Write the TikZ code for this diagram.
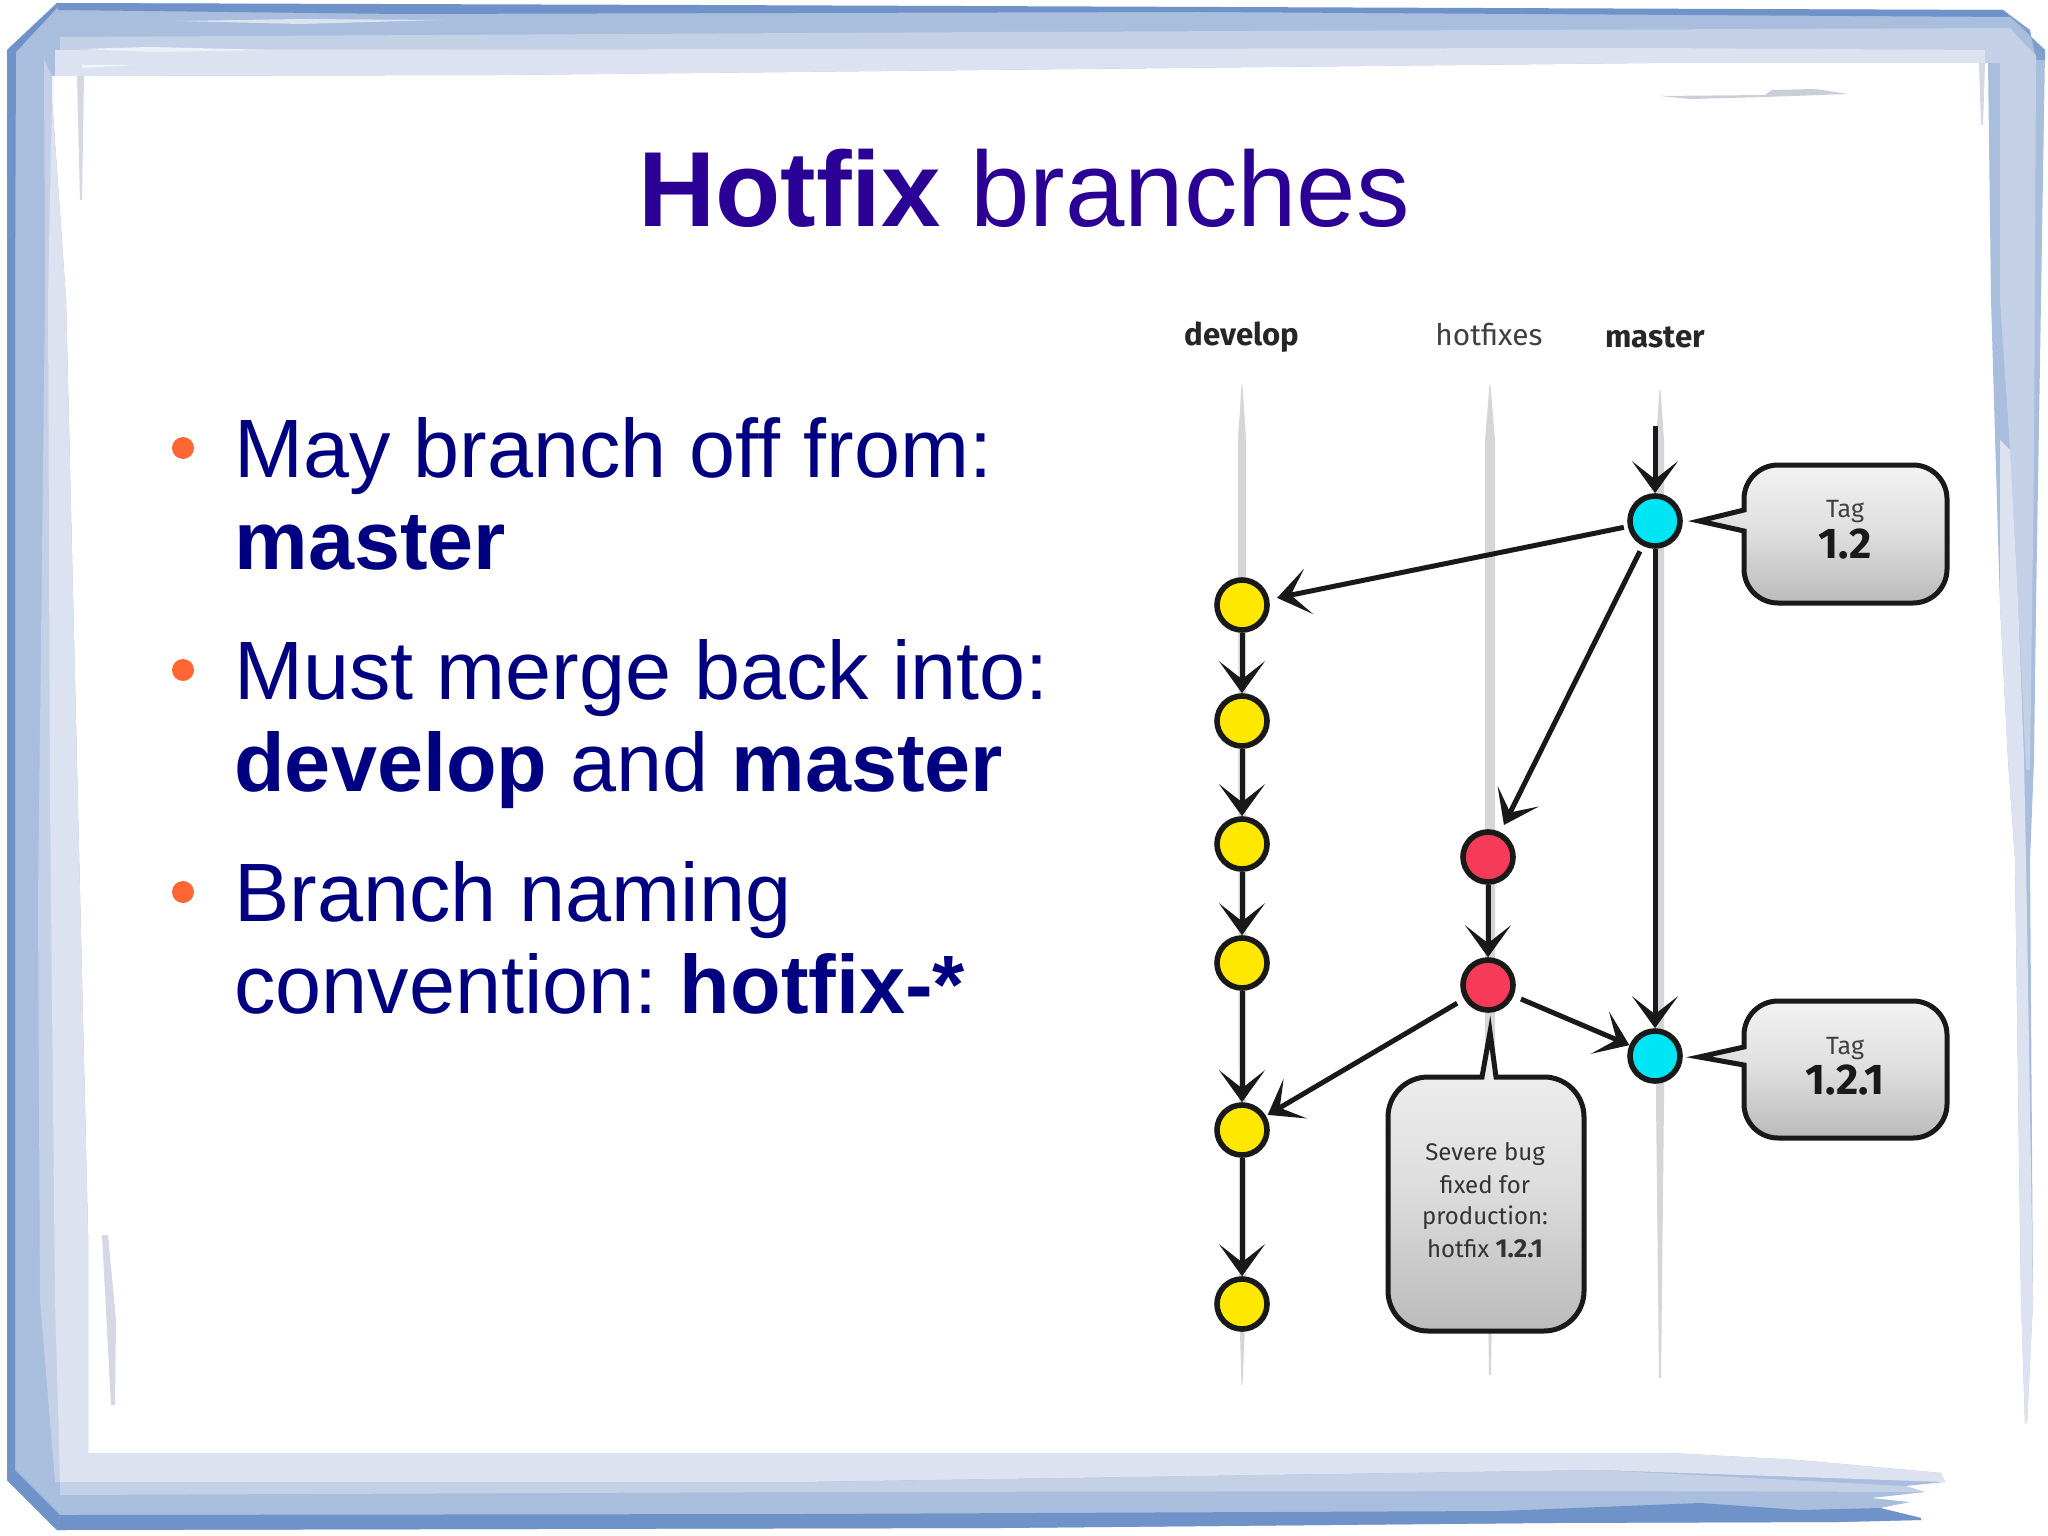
\documentclass[tikz,border=0pt]{standalone}
\usepackage{fontspec}
\setmainfont{Liberation Sans}
\newfontfamily\metafont{Fira Sans}
\usetikzlibrary{arrows.meta}
\definecolor{titleblue}{HTML}{2A0095}
\definecolor{bodyblue}{HTML}{000080}
\definecolor{bulletorange}{HTML}{FF6633}
\definecolor{devyellow}{HTML}{FFE800}
\definecolor{tagcyan}{HTML}{00E5F5}
\definecolor{fixred}{HTML}{F53A5A}
\definecolor{lifegray}{HTML}{D6D6DA}
\definecolor{frameA}{HTML}{6F92C8}
\definecolor{frameB}{HTML}{A9BDDD}
\definecolor{frameC}{HTML}{C3D0E6}
\definecolor{frameD}{HTML}{DCE2EF}
\tikzset{
  titletext/.style={anchor=base,text=titleblue,font=\fontsize{53.4}{60}\selectfont,inner sep=0pt},
  bodytext/.style={anchor=base west,text=bodyblue,font=\fontsize{41.4}{46}\selectfont,inner sep=0pt},
  bulletdot/.style={circle,fill=bulletorange,minimum size=11pt,inner sep=0pt},
  commit/.style={circle,draw=black!90,line width=2.8pt,minimum size=25pt,inner sep=0pt},
  devnode/.style={commit,fill=devyellow},
  tagnode/.style={commit,fill=tagcyan},
  fixnode/.style={commit,fill=fixred},
  flow/.style={draw=black!90,line width=2.5pt,-{Stealth[length=16pt,width=23pt,inset=9pt]}},
  lifeline/.style={fill=lifegray},
  callout/.style={draw=black!90,line width=2.5pt,top color=white!90!gray,bottom color=black!27,middle color=black!13},
  branchbold/.style={anchor=base,text=black!85,inner sep=0pt,font=\metafont\bfseries\fontsize{15.6}{17}\selectfont},
  branchreg/.style={anchor=base,text=black!75,inner sep=0pt,font=\metafont\fontsize{14.9}{16}\selectfont},
  tagsmall/.style={anchor=base,text=black!75,inner sep=0pt,font=\metafont\fontsize{12.5}{14}\selectfont},
  tagbig/.style={anchor=base,text=black!90,inner sep=0pt,font=\metafont\bfseries\fontsize{21.5}{23}\selectfont},
  notetext/.style={anchor=base,text=black!80,inner sep=0pt,font=\metafont\fontsize{12}{14}\selectfont},
}
\begin{document}
\begin{tikzpicture}[x=0.5pt,y=-0.5pt]
\useasboundingbox (0,0) rectangle (2048,1535);
\fill[white] (0,0) rectangle (2048,1535);

% ---------- painted frame: base ----------
\fill[frameB] (57,3) -- (1000,8) -- (2003,10) -- (2045,50) -- (2041,300) -- (2036,606) -- (2034,760) -- (2030,860) -- (2033,1300)
   -- (2027,1423) -- (2025,1423) -- (2021,1300) -- (2015,860) -- (2008,760) -- (2000,606) -- (1991,300) -- (1988,63) -- (1650,63) -- (500,75) -- (52,76)
   -- (52,100) -- (66,300) -- (88,1235) -- (88,1453) -- (1671,1453) -- (1798,1460) -- (1941,1473) -- (1945,1482) -- (1905,1486) -- (1925,1492)
   -- (1871,1498) -- (1910,1502) -- (1880,1508) -- (1921,1518) -- (1921,1520) -- (1838,1522) -- (1548,1523) -- (1000,1528) -- (57,1530) -- (7,1480) -- (7,50) -- cycle;

% top band layers
\fill[frameC] (60,37) -- (1000,32) -- (2010,28) -- (2030,50) -- (1992,63) -- (60,50) -- cycle;
\fill[frameD] (55,50) -- (1650,48) -- (1985,50) -- (1985,63) -- (1650,63) -- (500,75) -- (55,76) -- cycle;
\fill[frameA] (57,3) -- (700,5) -- (2003,10) -- (2012,17) -- (1200,12) -- (400,14) -- (58,10) -- cycle;
\fill[frameC!60!white] (177,21) -- (300,19) -- (443,20) -- (300,24) -- cycle;
\fill[frameD!50!white] (80,49) -- (150,47) -- (275,50) -- (150,52) -- cycle;
\fill[frameD!40!white] (82,65) -- (135,65) -- (82,68) -- cycle;
% left band layers
\fill[frameC] (44,60) -- (52,76) -- (52,100) -- (66,300) -- (88,1235) -- (88,1453) -- (60,1482) -- (55,1482) -- (40,1300) -- (38,900) -- (45,300) -- cycle;
\fill[frameD] (52,100) -- (66,300) -- (88,1235) -- (88,1453) -- (1671,1453) -- (1798,1460) -- (1941,1473) -- (1945,1482) -- (1600,1470) -- (800,1482) -- (60,1482) -- (55,1300) -- (50,800) -- (48,300) -- cycle;
\fill[frameA] (7,50) -- (57,3) -- (57,8) -- (16,52) -- (15,300) -- (15,1470) -- (60,1515) -- (57,1530) -- (7,1480) -- cycle;
% bottom band layers
\fill[frameC] (60,1482) -- (800,1482) -- (1600,1470) -- (1905,1486) -- (1925,1492) -- (1600,1491) -- (800,1492) -- (60,1495) -- cycle;
\fill[frameA] (60,1515) -- (800,1514) -- (1500,1511) -- (1700,1503) -- (1800,1510) -- (1880,1508) -- (1921,1518) -- (1921,1520) -- (1838,1522) -- (1548,1523) -- (1000,1528) -- (57,1530) -- cycle;
% right band layers
\fill[frameC] (2000,62) -- (2036,62) -- (2034,460) -- (2030,770) -- (2026,770) -- (2018,600) -- (2010,450) -- (2000,300) -- cycle;
\fill[frameD] (2000,440) -- (2010,450) -- (2018,600) -- (2024,760) -- (2026,860) -- (2033,1300) -- (2027,1423) -- (2025,1423) -- (2021,1300) -- (2015,860) -- (2008,760) -- (2000,606) -- cycle;
\fill[frameA!70!frameB] (2003,10) -- (2045,50) -- (2045,60) -- (2036,60) -- (2030,30) -- cycle;
\fill[frameC] (2010,30) -- (2036,55) -- (2036,64) -- (1992,63) -- cycle;
% inner thin brush marks
\fill[frameD!90!gray] (77,76) -- (84,76) -- (82,200) -- (80,200) -- cycle;
\fill[frameD!90!gray] (102,1235) -- (108,1235) -- (116,1320) -- (115,1405) -- (111,1405) -- cycle;
\fill[frameD!90!gray] (1979,63) -- (1985,63) -- (1983,125) -- (1981,125) -- cycle;
\fill[frameD!80!gray] (1660,96) -- (1765,95) -- (1772,90) -- (1815,89) -- (1848,94) -- (1765,97) -- (1690,99) -- cycle;

% ---------- title ----------
\node[titletext] (title) at (1024,227) {\textbf{Hotfix} branches};

% ---------- bullets ----------
\node[bulletdot] (b1) at (183,448) {};
\node[bulletdot] (b2) at (183,670) {};
\node[bulletdot] (b3) at (183,892) {};
\node[bodytext] (l1) at (234,477) {May branch off from:};
\node[bodytext] (l2) at (234,569) {\textbf{master}};
\node[bodytext] (l3) at (234,699) {Must merge back into:};
\node[bodytext] (l4) at (234,791) {\textbf{develop} and \textbf{master}};
\node[bodytext] (l5) at (234,921) {Branch naming};
\node[bodytext] (l6) at (234,1013) {convention:\hspace{11pt}\textbf{hotfix-*}};

% ---------- life lines ----------
\fill[lifeline] (1241.5,385) -- (1242.5,385) -- (1246,440) -- (1246,1300) -- (1242.5,1385) -- (1241.5,1385) -- (1239,1300) -- (1238,440) -- cycle;
\fill[lifeline] (1489.5,385) -- (1490.5,385) -- (1495,440) -- (1495,1100) -- (1491,1375) -- (1489,1375) -- (1485,1100) -- (1485,440) -- cycle;
\fill[lifeline] (1659.5,390) -- (1660.5,390) -- (1664,440) -- (1664,1100) -- (1661,1378) -- (1659,1378) -- (1656,1100) -- (1656,440) -- cycle;

% ---------- branch names ----------
\node[branchbold] (ndev) at (1242,345) {develop};
\node[branchreg]  (nfix) at (1489,345) {hotfixes};
\node[branchbold] (nmas) at (1655,348) {master};

% ---------- callouts ----------
\path[callout] (1744,510) [rounded corners=17pt] -- (1744,465) -- (1947,465) -- (1947,603) -- (1744,603) [sharp corners] -- (1744,531) -- (1699,521) -- cycle;
\path[callout] (1744,1047) [rounded corners=17pt] -- (1744,1001) -- (1947,1001) -- (1947,1138) -- (1744,1138) [sharp corners] -- (1744,1065) -- (1699,1057) -- cycle;
\path[callout] (1482,1077) [rounded corners=20pt] -- (1388,1077) -- (1388,1331) -- (1584,1331) -- (1584,1077) [sharp corners] -- (1496,1077) -- (1490,1032) -- cycle;

\node[tagsmall] (t1a) at (1845,517) {Tag};
\node[tagbig]   (t1b) at (1845,558) {1.2};
\node[tagsmall] (t2a) at (1845,1054) {Tag};
\node[tagbig]   (t2b) at (1845,1094) {1.2.1};
\node[notetext] (n1) at (1485,1160) {Severe bug};
\node[notetext] (n2) at (1485,1193) {fixed for};
\node[notetext] (n3) at (1485,1224) {production:};
\node[notetext] (n4) at (1485,1257) {hotfix {\bfseries\fontsize{13}{14}\selectfont 1.2.1}};

% ---------- commits ----------
\node[devnode] (d1) at (1242,605) {};
\node[devnode] (d2) at (1242,721) {};
\node[devnode] (d3) at (1242,844) {};
\node[devnode] (d4) at (1242,963) {};
\node[devnode] (d5) at (1242,1130) {};
\node[devnode] (d6) at (1242,1304) {};
\node[fixnode] (h1) at (1488,857) {};
\node[fixnode] (h2) at (1488,985) {};
\node[tagnode] (m1) at (1655,521) {};
\node[tagnode] (m2) at (1655,1056) {};
\coordinate (mstart) at (1655,426);

% ---------- connectors ----------
\draw[flow] (mstart) -- (m1);
\draw[flow] (m1) -- (m2);
\draw[flow,shorten <=2pt,shorten >=4pt] (m1) -- (d1);
\draw[flow,shorten <=3pt,shorten >=4pt] (m1) -- (h1);
\draw[flow] (d1) -- (d2);
\draw[flow] (d2) -- (d3);
\draw[flow] (d3) -- (d4);
\draw[flow] (d4) -- (d5);
\draw[flow] (d5) -- (d6);
\draw[flow] (h1) -- (h2);
\draw[flow,shorten <=4pt,shorten >=1pt] (h2) -- (d5);
\draw[flow,shorten <=4pt,shorten >=0pt] (h2) -- (m2);
\end{tikzpicture}
\end{document}
